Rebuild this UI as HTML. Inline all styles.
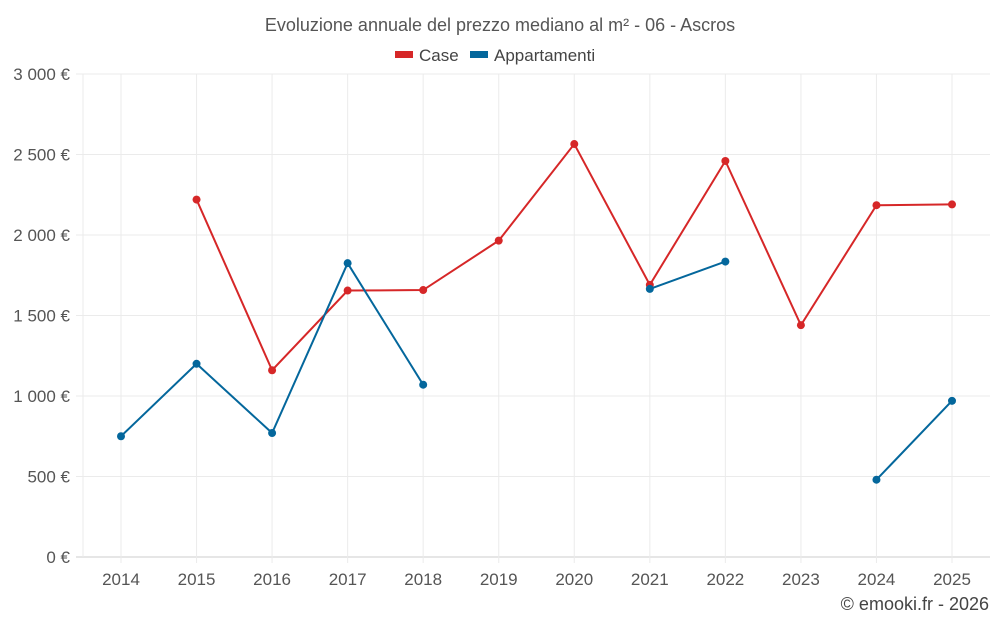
<!DOCTYPE html>
<html><head><meta charset="utf-8"><style>
body{margin:0;background:#fff;font-family:"Liberation Sans",sans-serif;}
svg text{font-family:"Liberation Sans",sans-serif;}
</style></head><body>
<svg width="1000" height="625" id="c">
<text x="500" y="31" text-anchor="middle" font-size="18" fill="#555">Evoluzione annuale del prezzo mediano al m² - 06 - Ascros</text>
<g>
<g><rect x="395" y="51" width="18" height="7" fill="#d62728"/><text x="419" y="61" font-size="17" fill="#444">Case</text></g>
<g><rect x="470" y="51" width="18" height="7" fill="#04679c"/><text x="494" y="61" font-size="17" fill="#444">Appartamenti</text></g>
</g>
<g id="grid"></g><g id="axes"></g><g id="series"></g>
<text x="989" y="610" text-anchor="end" font-size="18" fill="#444">© emooki.fr - 2026</text>
</svg>
<script>
const years=[2014,2015,2016,2017,2018,2019,2020,2021,2022,2023,2024,2025];
const caseVals=[null,2220,1160,1655,1658,1965,2565,1690,2460,1440,2185,2190];
const aptVals=[750,1200,770,1825,1070,null,null,1665,1835,null,480,970];
const yTicks=[0,500,1000,1500,2000,2500,3000];
const yTickLabels=["0 €","500 €","1 000 €","1 500 €","2 000 €","2 500 €","3 000 €"];
const NS="http://www.w3.org/2000/svg";
const x0=83,x1=990,yb=557,yt=74;
const xs=i=>121+i*(952-121)/(years.length-1);
const ys=v=>yb-(v/3000)*(yb-yt);
function mk(t,a,p){const e=document.createElementNS(NS,t);for(const k in a)e.setAttribute(k,a[k]);p.appendChild(e);return e;}
const grid=document.getElementById('grid'),axes=document.getElementById('axes'),ser=document.getElementById('series');
yTicks.forEach((v,i)=>{
 const l=mk('line',{x1:76,x2:x1,y1:ys(v),y2:ys(v),stroke:i==0?'#ccc':'#ebebeb'},grid);
 
 
 const t=mk('text',{x:70,y:ys(v)+6,'text-anchor':'end','font-size':17,fill:'#555'},axes);
 t.textContent=yTickLabels[i];
 
 
});
mk('line',{x1:x0,x2:x0,y1:yt,y2:yb,stroke:'#ebebeb'},grid);
years.forEach((y,i)=>{
 const l=mk('line',{x1:xs(i),x2:xs(i),y1:yt,y2:yb+6,stroke:'#ebebeb'},grid);
 
 
 const t=mk('text',{x:xs(i),y:585,'text-anchor':'middle','font-size':17,fill:'#555'},axes);
 t.textContent=y;
 
 
});
function draw(vals,color,name){
 let seg=[];
 const flush=()=>{if(seg.length>1){const p=mk('polyline',{points:seg.join(' '),fill:'none',stroke:color,'stroke-width':2},ser);}seg=[];};
 vals.forEach((v,i)=>{if(v==null){flush();return;}seg.push(xs(i)+','+ys(v));});
 flush();
 vals.forEach((v,i)=>{if(v==null)return;
  const c=mk('circle',{cx:xs(i),cy:ys(v),r:4,fill:color},ser);
  
  });
}
draw(caseVals,'#d62728','case');
draw(aptVals,'#04679c','appartamenti');
</script>
</body></html>
